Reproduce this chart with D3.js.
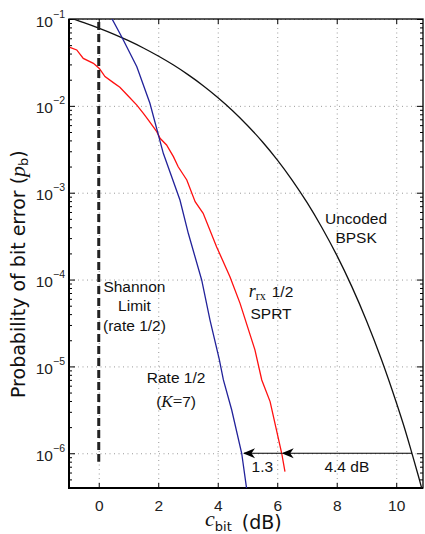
<!DOCTYPE html>
<html>
<head>
<meta charset="utf-8">
<script src="https://cdn.jsdelivr.net/npm/d3@7"></script>
<style>
body { margin: 0; background: #fff; }
svg { display: block; }
.ann { font-family: "Liberation Sans", Arial, sans-serif; font-size: 15.5px; fill: #111; }
.tk { font-family: "Liberation Sans", Arial, sans-serif; fill: #222; }
</style>
</head>
<body>
<svg id="chart" width="425" height="534"></svg>
<script>
// uncoded BPSK
var bpskDb = [-1, -0.5, 0, 0.5, 1, 1.5, 2, 2.5, 3, 3.5, 4, 4.5, 5, 5.5, 6, 6.5, 7, 7.5, 8, 8.5, 9, 9.5, 10, 10.25, 10.5, 10.75, 11]
var bpskPb = [0.104, 0.0909, 0.0786, 0.0671, 0.0563, 0.0464, 0.0375, 0.0297, 0.0229, 0.0172, 0.0125, 0.0088, 0.00595, 0.00386,
  0.00239, 0.0014, 7.73e-4, 3.98e-4, 1.91e-4, 8.4e-5, 3.36e-5, 1.21e-5, 3.87e-6, 2.1e-6, 1.08e-6, 5.4e-7, 2.6e-7]

// rate 1/2 SPRT (red)
var sprtDb = [-0.97, -0.74, -0.52, -0.18, 0.02, 0.21, 0.49, 0.71, 0.99, 1.28, 1.5, 1.67, 1.95, 2.06, 2.28, 2.51, 2.67, 2.96,
  3.24, 3.51, 3.96, 4.41, 4.75, 5.25, 5.48, 5.76, 6.15, 6.26]
var sprtPb = [0.0472, 0.044, 0.0352, 0.0309, 0.027, 0.0217, 0.0185, 0.0164, 0.013, 0.0102, 0.0082, 0.00687, 0.00504, 0.00423,
  0.00354, 0.0026, 0.00199, 0.0014, 7.87e-4, 5.79e-4, 2.39e-4, 1.08e-4, 5.32e-5, 1.55e-5, 6.98e-6, 3.93e-6, 1.0e-6, 6.14e-7]

// rate 1/2, K=7 (blue)
var convDb = [0.35, 0.435, 0.77, 1.28, 1.72, 2.17, 2.73, 3.01, 3.46, 3.74, 4.05, 4.19, 4.47, 4.805, 4.97]
var convPb = [0.115, 0.102, 0.0625, 0.0282, 0.0107, 0.00284, 8.24e-4, 3.41e-4, 9.89e-5, 3.42e-5, 1.21e-5, 6.98e-6, 3.15e-6, 1.0e-6, 3.94e-7]

var shannonDb = 0
var shannonPb = [0.1, 8e-7]

var arrowFrom = [10.53, 6.15]
var arrowTo = [6.15, 4.85]
var arrowLevel = 1e-6
var arrowText = ['4.4 dB', '1.3']

var xTicks = [0, 2, 4, 6, 8, 10]
var yDecades = [-6, -5, -4, -3, -2, -1]

var svg = d3.select('#chart')
var pl = 69, pr = 423, pt = 19, pb = 488

var x = d3.scaleLinear().domain([-1, 10.9]).range([pl, pr])
var y = d3.scaleLog().domain([Math.pow(10, -6.4), 0.1]).range([pb, pt])

var minors = []
for (var e = -7; e <= -2; e++) {
  for (var k = 2; k <= 9; k++) {
    var v = k * Math.pow(10, e)
    if (v >= y.domain()[0] && v <= 0.1) minors.push(v)
  }
}
var majors = yDecades.map(function(d) { return Math.pow(10, d) })

var defs = svg.append('defs')
defs.append('clipPath').attr('id', 'clip')
  .append('rect').attr('x', pl).attr('y', pt).attr('width', pr - pl).attr('height', pb - pt)

// grid
var grid = svg.append('g').attr('stroke', '#9a9a9a').attr('stroke-width', 1).attr('stroke-dasharray', '1,3.5')
grid.selectAll('.gx').data(xTicks).join('line')
  .attr('x1', function(d) { return x(d) + 0.5 }).attr('x2', function(d) { return x(d) + 0.5 })
  .attr('y1', pt).attr('y2', pb)
grid.selectAll('.gy').data(majors).join('line')
  .attr('x1', pl).attr('x2', pr)
  .attr('y1', function(d) { return y(d) + 0.5 }).attr('y2', function(d) { return y(d) + 0.5 })

// axes
function styleAxis(g) {
  g.select('.domain').remove()
  g.selectAll('.tick line').attr('stroke', '#000').attr('stroke-width', 1)
}
svg.append('g').attr('transform', 'translate(0,' + pb + ')')
  .call(d3.axisBottom(x).tickValues(xTicks).tickSize(-5).tickPadding(12).tickFormat(d3.format('d')))
  .call(styleAxis)
  .call(function(g) { g.selectAll('text').attr('class', 'tk').attr('font-size', 15.5).attr('font-family', null).attr('fill', '#222') })
svg.append('g').attr('transform', 'translate(0,' + pt + ')')
  .call(d3.axisTop(x).tickValues(xTicks).tickSize(-5).tickFormat(''))
  .call(styleAxis)

svg.append('g').attr('transform', 'translate(' + pl + ',0)')
  .call(d3.axisLeft(y).tickValues(minors).tickSize(-3).tickFormat(''))
  .call(styleAxis)
svg.append('g').attr('transform', 'translate(' + pr + ',0)')
  .call(d3.axisRight(y).tickValues(minors).tickSize(-3).tickFormat(''))
  .call(styleAxis)
svg.append('g').attr('transform', 'translate(' + pr + ',0)')
  .call(d3.axisRight(y).tickValues(majors).tickSize(-6).tickFormat(''))
  .call(styleAxis)

var yAx = svg.append('g').attr('transform', 'translate(' + pl + ',0)')
  .call(d3.axisLeft(y).tickValues(majors).tickSize(-6).tickPadding(16).tickFormat(function() { return '10' }))
  .call(styleAxis)
yAx.selectAll('.tick text')
  .attr('class', 'tk').attr('font-size', 15.5).attr('font-family', null).attr('fill', '#222')
  .attr('dy', null).attr('y', 7)
yAx.selectAll('.tick').append('text')
  .attr('class', 'tk').attr('font-size', 10.5).attr('fill', '#222')
  .attr('x', -16).attr('y', -2).attr('text-anchor', 'start')
  .text(function(d) { return '\u2212' + Math.round(-Math.log10(d)) })

// frame
svg.append('rect').attr('x', pl).attr('y', pt).attr('width', pr - pl).attr('height', pb - pt)
  .attr('fill', 'none').attr('stroke', '#000').attr('stroke-width', 1.3)
svg.append('path').attr('d', 'M' + pl + ',' + pt + 'V' + pb + 'H' + pr)
  .attr('fill', 'none').attr('stroke', '#000').attr('stroke-width', 2)

// curves
var plot = svg.append('g').attr('clip-path', 'url(#clip)')
function drawCurve(xs, ys, color, curve) {
  var pts = xs.map(function(d, i) { return [d, ys[i]] })
  plot.append('path').datum(pts)
    .attr('fill', 'none').attr('stroke', color).attr('stroke-width', 1.3)
    .attr('d', d3.line().x(function(d) { return x(d[0]) }).y(function(d) { return y(d[1]) }).curve(curve))
}
drawCurve(bpskDb, bpskPb, '#111', d3.curveMonotoneX)
drawCurve(sprtDb, sprtPb, '#ff1010', d3.curveLinear)
drawCurve(convDb, convPb, '#22229a', d3.curveLinear)

// Shannon limit
plot.append('line')
  .attr('x1', x(shannonDb)).attr('x2', x(shannonDb))
  .attr('y1', y(shannonPb[0]) + 3).attr('y2', y(shannonPb[1]))
  .attr('stroke', '#222').attr('stroke-width', 3).attr('stroke-dasharray', '8,4')

// arrows
arrowFrom.forEach(function(d, i) {
  svg.append('line')
    .attr('x1', x(d)).attr('x2', x(arrowTo[i]) + 1)
    .attr('y1', y(arrowLevel)).attr('y2', y(arrowLevel))
    .attr('stroke', '#000').attr('stroke-width', 1.2)
  svg.append('path')
    .attr('d', 'M' + x(arrowTo[i]) + ',' + y(arrowLevel) + 'l12,-5l-3.5,5l3.5,5z')
    .attr('fill', '#000')
})
svg.selectAll('.alab').data(arrowText).join('text')
  .attr('class', 'ann').attr('text-anchor', 'middle')
  .attr('x', function(d, i) { return x((arrowFrom[i] + arrowTo[i]) / 2) })
  .attr('y', y(arrowLevel) + 19)
  .text(function(d) { return d })

// text annotations
function label(xd, yd, lines, gap) {
  var t = svg.append('text').attr('class', 'ann').attr('text-anchor', 'middle')
    .attr('x', x(xd)).attr('y', y(Math.pow(10, yd)))
  lines.forEach(function(l, i) {
    var ts = t.append('tspan').attr('x', x(xd)).attr('dy', i === 0 ? 0 : gap)
    l(ts)
  })
}
function plain(s) { return function(ts) { ts.text(s) } }

label(1.2, -4.143, [plain('Shannon'), plain('Limit'), plain('(rate 1/2)')], 19.5)
label(2.6, -5.19, [plain('Rate 1/2'), function(ts) {
  ts.append('tspan').text('(')
  ts.append('tspan').attr('font-family', 'Liberation Serif, serif').attr('font-style', 'italic').attr('font-size', 17).text('K')
  ts.append('tspan').attr('font-family', 'Liberation Serif, serif').attr('font-size', 17).text('=')
  ts.append('tspan').text('7)')
}], 24)
label(5.79, -4.2, [function(ts) {
  ts.append('tspan').attr('font-family', 'Liberation Serif, serif').attr('font-style', 'italic').attr('font-size', 18).text('r')
  ts.append('tspan').attr('font-family', 'Liberation Serif, serif').attr('font-size', 12).attr('dy', 3).text('rx')
  ts.append('tspan').attr('dy', -3).attr('dx', 6).text('1/2')
}, plain('SPRT')], 22)
label(8.65, -3.36, [plain('Uncoded'), plain('BPSK')], 19)

// axis titles
var xt = svg.append('text').attr('x', 205).attr('y', 529)
  .attr('font-family', 'DejaVu Sans, sans-serif').attr('font-size', 19).attr('fill', '#111')
xt.append('tspan').attr('font-family', 'Liberation Serif, serif').attr('font-style', 'italic').attr('font-size', 22).attr('dy', -3).text('c')
xt.append('tspan').attr('font-size', 13).attr('dy', 5).text('bit')
xt.append('tspan').attr('dy', -2).attr('dx', 10).text('(dB)')

var yt = svg.append('text').attr('transform', 'translate(25,398) rotate(-90)')
  .attr('font-family', 'DejaVu Sans, sans-serif').attr('font-size', 19).attr('fill', '#111')
yt.append('tspan').text('Probability of bit error (')
yt.append('tspan').attr('font-family', 'Liberation Serif, serif').attr('font-style', 'italic').attr('font-size', 22).text('p')
yt.append('tspan').attr('font-size', 13).attr('dy', 3).text('b')
yt.append('tspan').attr('dy', -3).text(')')
</script>
</body>
</html>
